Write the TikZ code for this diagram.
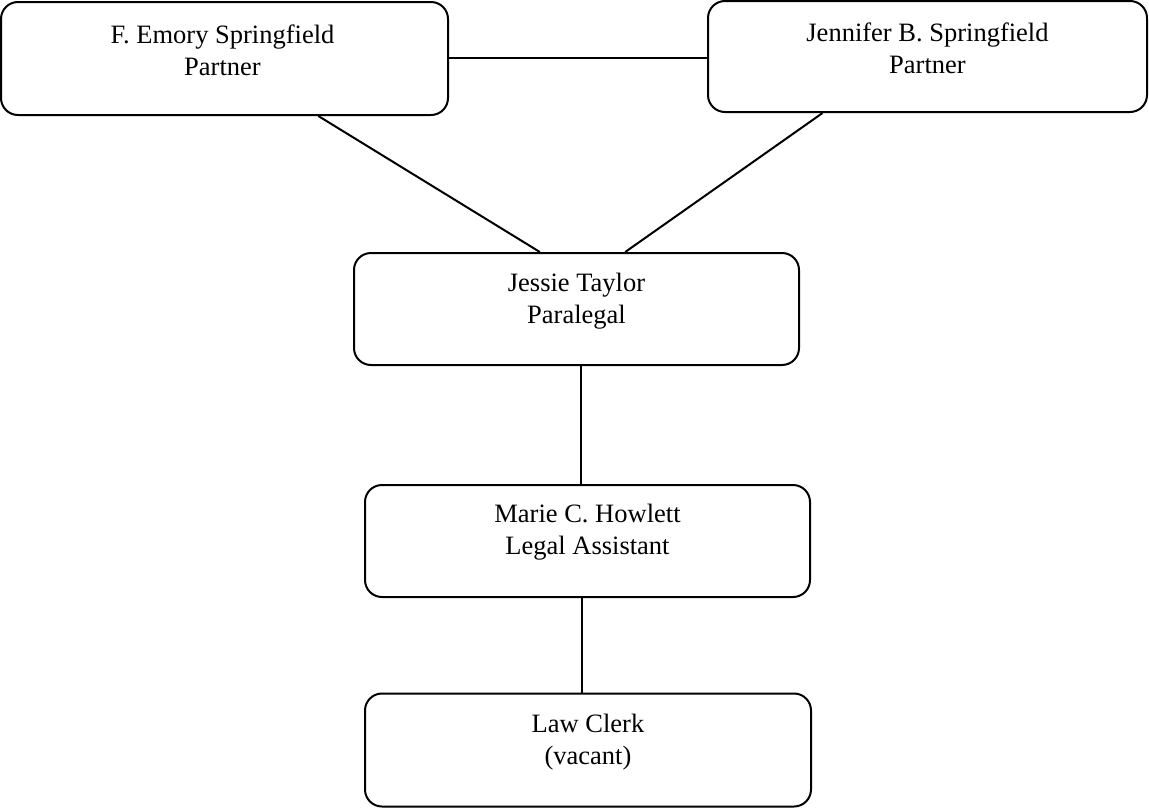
\documentclass[tikz,border=0pt]{standalone}
\usepackage{fontspec}
\setmainfont{Liberation Serif}
\usetikzlibrary{calc}
\begin{document}
\begin{tikzpicture}[x=1pt,y=-1pt,
  box/.style={draw=black, line width=2pt, rounded corners=17pt, inner sep=0pt},
  lbl/.style={align=center, inner sep=0pt, font=\fontsize{26.5}{32}\selectfont},
  link/.style={draw=black, line width=2pt}]
\useasboundingbox (0,0) rectangle (1149,809);
\node[box, minimum width=447pt, minimum height=113pt] (b1) at (224.5,58.5) {};
\node[box, minimum width=439pt, minimum height=111pt] (b2) at (927.5,56.5) {};
\node[box, minimum width=445pt, minimum height=112pt] (b3) at (576.5,309) {};
\node[box, minimum width=445pt, minimum height=112pt] (b4) at (587.5,541) {};
\node[box, minimum width=446pt, minimum height=113pt] (b5) at (588,750) {};
\node[lbl] (t1) at ($(b1.center)+(-2,-8)$) {F. Emory Springfield\\Partner};
\node[lbl] (t2) at ($(b2.center)+(0,-8)$) {Jennifer B. Springfield\\Partner};
\node[lbl] (t3) at ($(b3.center)+(0,-8)$) {Jessie Taylor\\Paralegal};
\node[lbl] (t4) at ($(b4.center)+(0,-9)$) {Marie C. Howlett\\Legal Assistant};
\node[lbl] (t5) at ($(b5.center)+(0,-8)$) {Law Clerk\\(vacant)};
\draw[link] (b1.east |- 0,58) -- (b2.west |- 0,58);
\draw[link] ($(b1.south west)!0.709!(b1.south east)$) -- ($(b3.north west)!0.418!(b3.north east)$);
\draw[link] ($(b2.south west)!0.262!(b2.south east)$) -- ($(b3.north west)!0.609!(b3.north east)$);
\coordinate (v1) at ($(b3.south west)!0.51!(b3.south east)$);
\draw[link] (v1) -- (v1 |- b4.north);
\coordinate (v2) at ($(b4.south west)!0.488!(b4.south east)$);
\draw[link] (v2) -- (v2 |- b5.north);
\end{tikzpicture}
\end{document}
